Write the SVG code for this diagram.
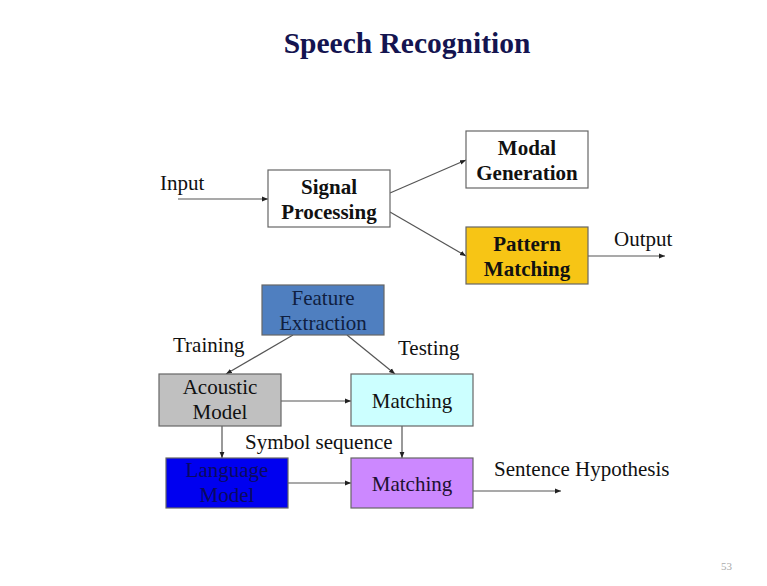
<svg xmlns="http://www.w3.org/2000/svg" width="767" height="586" viewBox="0 0 767 586">
<style>
text{font-family:"Liberation Serif","Times New Roman",serif;fill:#111}
.b{font-weight:bold;font-size:21px;text-anchor:middle}
.r{font-size:21px;text-anchor:middle}
.l{font-size:21px}
.box{stroke:#666;stroke-width:1.2}
.c{stroke:#555;stroke-width:1.2;fill:none;marker-end:url(#ah)}
</style>
<defs>
<marker id="ah" viewBox="0 0 10 10" refX="10" refY="5" markerWidth="6" markerHeight="6" orient="auto" markerUnits="userSpaceOnUse">
<path d="M0,1 L10,5 L0,9 z" fill="#222"/>
</marker>
</defs>
<rect width="767" height="586" fill="#fff"/>
<text x="407" y="53" text-anchor="middle" font-weight="bold" font-size="29.5" style="fill:#141450">Speech Recognition</text>
<g id="connectors">
<line class="c" x1="178" y1="199" x2="268" y2="199"/>
<line class="c" x1="390" y1="193" x2="466" y2="160"/>
<line class="c" x1="390" y1="212" x2="466" y2="256"/>
<line class="c" x1="588" y1="256" x2="665" y2="256"/>
<line class="c" x1="293" y1="335" x2="226" y2="374"/>
<line class="c" x1="347" y1="335" x2="395" y2="374"/>
<line class="c" x1="281" y1="401" x2="351" y2="401"/>
<line class="c" x1="222" y1="426" x2="222" y2="458"/>
<line class="c" x1="402" y1="426" x2="402" y2="458"/>
<line class="c" x1="288" y1="483" x2="351" y2="483"/>
<line class="c" x1="473" y1="491" x2="561" y2="491"/>
</g>
<g id="labels">
<text class="l" x="160" y="190">Input</text>
<text class="l" x="614" y="246">Output</text>
<text class="l" x="173" y="352">Training</text>
<text class="l" x="398" y="355">Testing</text>
<text class="l" x="245" y="449">Symbol sequence</text>
<text class="l" x="494" y="476">Sentence Hypothesis</text>
</g>
<g id="signal"><rect class="box" x="268" y="170" width="122" height="57" fill="#fff"/><text class="b" x="329" y="194">Signal</text><text class="b" x="329" y="219">Processing</text></g>
<g id="modal"><rect class="box" x="466" y="131" width="122" height="57" fill="#fff"/><text class="b" x="527" y="155">Modal</text><text class="b" x="527" y="180">Generation</text></g>
<g id="pattern"><rect class="box" x="466" y="227" width="122" height="57" fill="#f7c515"/><text class="b" x="527" y="251">Pattern</text><text class="b" x="527" y="276">Matching</text></g>
<g id="feature"><rect class="box" x="262" y="285" width="122" height="50" fill="#4f7fc0"/><text class="r" x="323" y="305" style="fill:#102040">Feature</text><text class="r" x="323" y="330" style="fill:#102040">Extraction</text></g>
<g id="acoustic"><rect class="box" x="159" y="374" width="122" height="52" fill="#c0c0c0"/><text class="r" x="220" y="394">Acoustic</text><text class="r" x="220" y="419">Model</text></g>
<g id="matching1"><rect class="box" x="351" y="374" width="122" height="52" fill="#ccffff"/><text class="r" x="412" y="408">Matching</text></g>
<g id="language"><rect class="box" x="166" y="458" width="122" height="50" fill="#0000f0"/><text class="r" x="227" y="477" style="fill:#0a0a60">Language</text><text class="r" x="227" y="502" style="fill:#0a0a60">Model</text></g>
<g id="matching2"><rect class="box" x="351" y="458" width="122" height="50" fill="#cc88ff"/><text class="r" x="412" y="491" style="fill:#201030">Matching</text></g>
<text x="721" y="570" font-size="11" style="fill:#aaa">53</text>
</svg>
